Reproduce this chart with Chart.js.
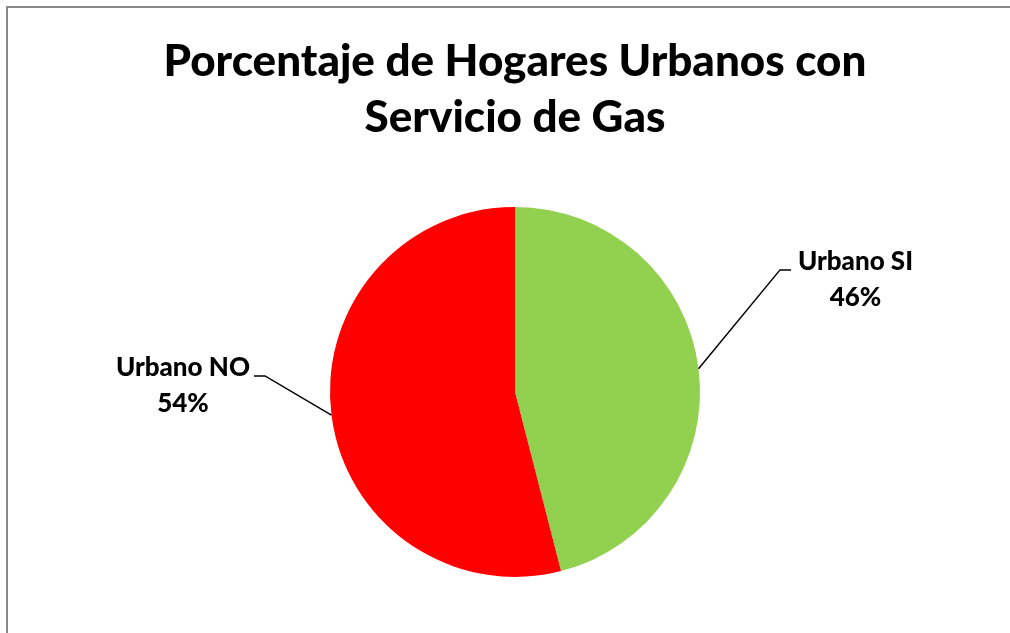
<!DOCTYPE html>
<html>
<head>
<meta charset="utf-8">
<script src="https://cdn.jsdelivr.net/npm/chart.js@4"></script>
<style>
  html, body { margin: 0; padding: 0; background: #fff; }
  #wrap { width: 1010px; height: 633px; position: relative; }
</style>
</head>
<body>
<div id="wrap"><canvas id="pieChart" width="1010" height="633"></canvas></div>
<script>
const labels = ['Urbano SI', 'Urbano NO'];
const values = [46, 54];
const colors = ['#92D050', '#FF0000'];
const titleLines = ['Porcentaje de Hogares Urbanos con', 'Servicio de Gas'];

// where the leader lines bend, relative to pie centre (label side: 1 right, -1 left)
const labelElbows = [
  { dx: 265, dy: -122, side: 1 },
  { dx: -250, dy: -16, side: -1 }
];

const FONT = 'Lato, "Open Sans", sans-serif';

const frame = {
  id: 'frame',
  beforeDraw(chart) {
    const ctx = chart.ctx;
    ctx.save();
    ctx.fillStyle = '#fff';
    ctx.fillRect(0, 0, chart.width, chart.height);
    ctx.strokeStyle = '#898989';
    ctx.lineWidth = 2;
    ctx.strokeRect(7, 7, chart.width + 20, chart.height + 20);
    ctx.restore();
  }
};

const pieLabels = {
  id: 'pieLabels',
  afterDatasetsDraw(chart) {
    const ctx = chart.ctx;
    const meta = chart.getDatasetMeta(0);
    const total = values.reduce((a, b) => a + b, 0);
    ctx.save();
    meta.data.forEach((arc, i) => {
      const p = arc.getProps(['x', 'y', 'startAngle', 'endAngle', 'outerRadius'], true);
      const mid = (p.startAngle + p.endAngle) / 2;
      const sx = p.x + Math.cos(mid) * p.outerRadius;
      const sy = p.y + Math.sin(mid) * p.outerRadius;
      const e = labelElbows[i];
      const ex = p.x + e.dx;
      const ey = p.y + e.dy;
      const tx = ex + e.side * 11;
      ctx.strokeStyle = '#000';
      ctx.lineWidth = 1.5;
      ctx.beginPath();
      ctx.moveTo(sx, sy);
      ctx.lineTo(ex, ey);
      ctx.lineTo(tx, ey);
      ctx.stroke();

      const pct = Math.round(values[i] / total * 100) + '%';
      ctx.font = '900 26px ' + FONT;
      ctx.fillStyle = '#000';
      ctx.textBaseline = 'middle';
      ctx.textAlign = 'center';
      const w = Math.max(ctx.measureText(labels[i]).width, ctx.measureText(pct).width);
      const cx = e.side > 0 ? tx + 7 + w / 2 : tx - 4 - w / 2;
      ctx.fillText(labels[i], cx, ey - 8);
      ctx.fillText(pct, cx, ey + 28);
    });
    ctx.restore();
  }
};

new Chart(document.getElementById('pieChart'), {
  type: 'pie',
  data: {
    labels: labels,
    datasets: [{
      data: values,
      backgroundColor: colors,
      borderWidth: 0,
      radius: 185
    }]
  },
  options: {
    responsive: false,
    animation: false,
    layout: { padding: { left: 20, right: 0, top: 0, bottom: 10 } },
    plugins: {
      legend: { display: false },
      tooltip: { enabled: false },
      title: {
        display: true,
        text: titleLines,
        color: '#000',
        font: { family: FONT, size: 44, weight: 900, lineHeight: 1.27 },
        padding: { top: 34, bottom: 15 }
      }
    }
  },
  plugins: [frame, pieLabels]
});
</script>
</body>
</html>
